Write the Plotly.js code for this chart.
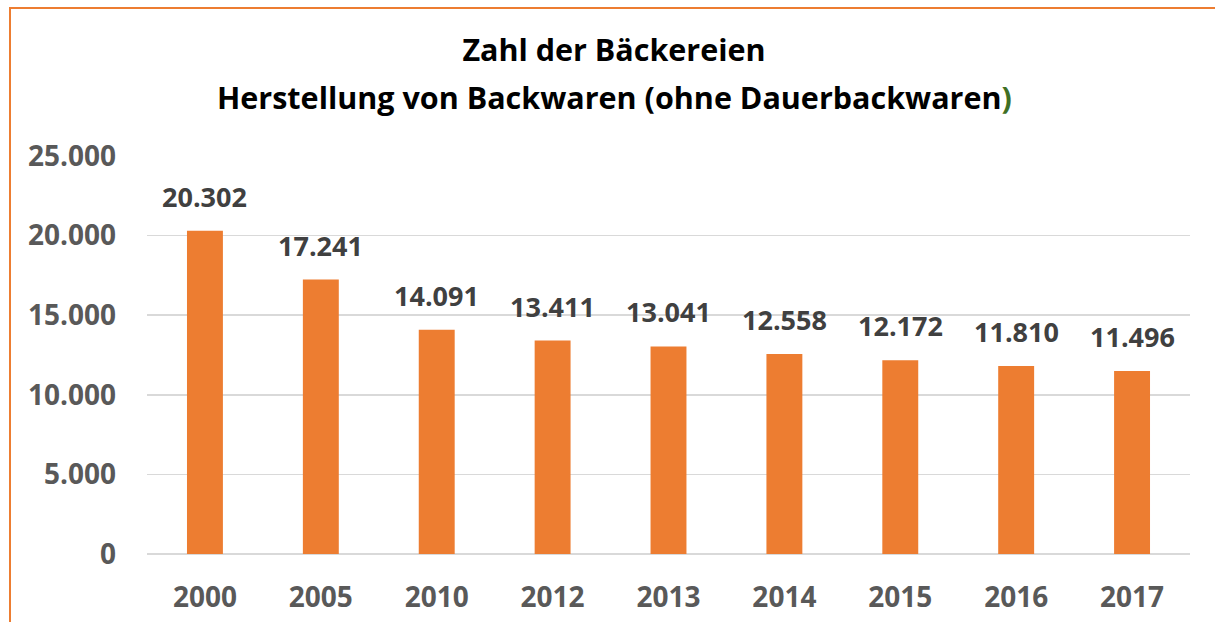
<!DOCTYPE html>
<html>
<head>
<meta charset="utf-8">
<script src="https://cdn.plot.ly/plotly-3.0.1.min.js"></script>
<style>
html,body{margin:0;padding:0;background:#fff;}
#wrap{position:relative;width:1215px;height:622px;overflow:hidden;}
#chart{width:1215px;height:622px;}
#frame{position:absolute;left:9px;top:7px;width:1300px;height:700px;border-left:2.5px solid #ED7D31;border-top:2.5px solid #ED7D31;pointer-events:none;}
</style>
</head>
<body>
<div id="wrap"><div id="chart"></div><div id="frame"></div></div>
<script>
const years = ["2000","2005","2010","2012","2013","2014","2015","2016","2017"];
const bakeries = [20302,17241,14091,13411,13041,12558,12172,11810,11496];
const yTicks = [0,5000,10000,15000,20000,25000];
const titleLine1 = "Zahl der Bäckereien";
const titleLine2 = "Herstellung von Backwaren (ohne Dauerbackwaren<span style=\"color:#3f6f24\">)</span>";

const FONT = "'Open Sans', 'Liberation Sans', sans-serif";
const fmt = v => String(v).replace(/\B(?=(\d{3})+(?!\d))/g, '.');

// category axis: annotate by category index so numeric-looking labels are not misread
const labelAnns = years.map((yr, i) => ({
  x: i, y: bakeries[i], xref: 'x', yref: 'y',
  text: fmt(bakeries[i]),
  showarrow: false, xanchor: 'center', yanchor: 'bottom', yshift: 14,
  font: {family: FONT, size: 27, color: '#404040', weight: 700}
}));

Plotly.newPlot('chart', [{
  type: 'bar',
  x: years,
  y: bakeries,
  marker: {color: '#ED7D31', line: {width: 0}},
  hoverinfo: 'x+y'
}], {
  width: 1215, height: 622,
  margin: {l: 147, r: 25, t: 156, b: 68},
  paper_bgcolor: '#fff', plot_bgcolor: '#fff',
  separators: ',.',
  bargap: 0.69,
  showlegend: false,
  title: {
    text: titleLine1,
    font: {family: FONT, size: 30.5, color: '#000', weight: 700},
    x: 614/1215, xanchor: 'center',
    y: 1 - 50/622, yanchor: 'middle', yref: 'container'
  },
  annotations: [{
    text: titleLine2,
    xref: 'paper', yref: 'paper',
    x: (614 - 147)/1043, y: 1 + (156 - 97)/398,
    xanchor: 'center', yanchor: 'middle',
    showarrow: false,
    font: {family: FONT, size: 30.5, color: '#000', weight: 700}
  }].concat(labelAnns),
  xaxis: {
    type: 'category',
    range: [-0.5, years.length - 0.5],
    showgrid: false, zeroline: false, showline: false,
    ticks: '',
    tickfont: {family: FONT, size: 28, color: '#595959', weight: 700},
    ticklabelstandoff: 24
  },
  yaxis: {
    range: [0, 25000],
    tickvals: yTicks,
    tickformat: ',d',
    showgrid: true, gridcolor: '#d9d9d9', gridwidth: 1.5,
    zeroline: true, zerolinecolor: '#d9d9d9', zerolinewidth: 1.5,
    showline: false, ticks: '',
    tickfont: {family: FONT, size: 28, color: '#595959', weight: 700},
    ticklabelstandoff: 30
  }
}, {displayModeBar: false, staticPlot: true});
</script>
</body>
</html>
